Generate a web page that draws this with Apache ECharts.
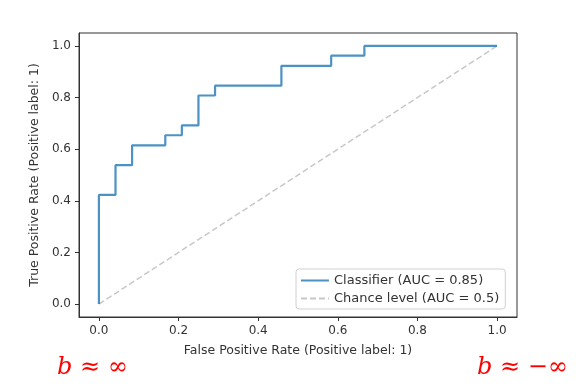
<!DOCTYPE html>
<html><head><meta charset="utf-8">
<script src="https://cdn.jsdelivr.net/npm/echarts@6/dist/echarts.min.js"></script>
<style>html,body{margin:0;padding:0;background:#fff}#c{width:584px;height:389px}</style>
</head><body><div id="c"></div>
<script>
// ROC curve corner points
const fpr = [0, 0, 0.0417, 0.0417, 0.0833, 0.0833, 0.1667, 0.1667, 0.2083, 0.2083, 0.25, 0.25, 0.2917, 0.2917, 0.4583, 0.4583, 0.5833, 0.5833, 0.6667, 0.6667, 1];
const tpr = [0, 0.423, 0.423, 0.538, 0.538, 0.615, 0.615, 0.654, 0.654, 0.692, 0.692, 0.808, 0.808, 0.846, 0.846, 0.923, 0.923, 0.962, 0.962, 1, 1];
const chanceX = [0, 1];
const chanceY = [0, 1];
const tickValues = [0, 0.2, 0.4, 0.6, 0.8, 1.0];
const classifierName = 'Classifier (AUC = 0.85)';
const chanceName = 'Chance level (AUC = 0.5)';
const xTitle = 'False Positive Rate (Positive label: 1)';
const yTitle = 'True Positive Rate (Positive label: 1)';

const font = 'DejaVu Sans';
const txt = '#333333';
const chart = echarts.init(document.getElementById('c'), null, {renderer: 'canvas'});
const axisCommon = {
  type: 'value', min: -0.05, max: 1.05,
  axisLine: {show: true, onZero: false, lineStyle: {color: '#333', width: 1}},
  axisTick: {show: true, length: 4, customValues: tickValues, lineStyle: {color: '#333'}},
  axisLabel: {customValues: tickValues, color: txt, fontFamily: font, fontSize: 12, margin: 8,
    formatter: v => v.toFixed(1)},
  splitLine: {show: false},
  nameLocation: 'middle',
  nameTextStyle: {color: txt, fontFamily: font, fontSize: 12.5}
};
chart.setOption({
  animation: false,
  grid: {left: 79, right: 67, top: 33, bottom: 72, show: true, borderColor: '#333', borderWidth: 1, backgroundColor: 'transparent'},
  xAxis: Object.assign({}, axisCommon, {name: xTitle, nameGap: 27}),
  yAxis: Object.assign({}, axisCommon, {name: yTitle, nameGap: 29}),
  legend: {
    show: true, orient: 'vertical', left: 296, top: 269, itemWidth: 28, itemHeight: 12, itemGap: 5,
    padding: [5, 6, 4, 4],
    borderColor: '#d0d0d0', borderWidth: 1, borderRadius: 3, backgroundColor: '#fff',
    itemStyle: {color: 'transparent', borderWidth: 0, opacity: 0},
    textStyle: {color: txt, fontFamily: font, fontSize: 13},
    data: [classifierName, chanceName]
  },
  series: [
    {name: classifierName, type: 'line', symbol: 'none', showSymbol: false, data: fpr.map((x, i) => [x, tpr[i]]),
      lineStyle: {color: '#1f77b4', width: 2.2, opacity: 0.8}, itemStyle: {color: '#1f77b4'}, z: 3},
    {name: chanceName, type: 'line', symbol: 'none', showSymbol: false, data: chanceX.map((x, i) => [x, chanceY[i]]),
      lineStyle: {color: '#c8c8c8', width: 1.5, type: [6, 3]}, itemStyle: {color: '#c8c8c8'}, z: 2}
  ],
  graphic: [
    {type: 'text', left: 57, top: 356, style: {text: '{i|b} ≈ ∞', rich: {i: {fontStyle: 'italic', fontFamily: 'DejaVu Serif', fontSize: 24, fill: '#ff0000'}}, fontFamily: 'DejaVu Serif', fontSize: 24, fill: '#ff0000'}},
    {type: 'text', left: 477, top: 356, style: {text: '{i|b} ≈ −∞', rich: {i: {fontStyle: 'italic', fontFamily: 'DejaVu Serif', fontSize: 24, fill: '#ff0000'}}, fontFamily: 'DejaVu Serif', fontSize: 24, fill: '#ff0000'}}
  ]
});
</script></body></html>
